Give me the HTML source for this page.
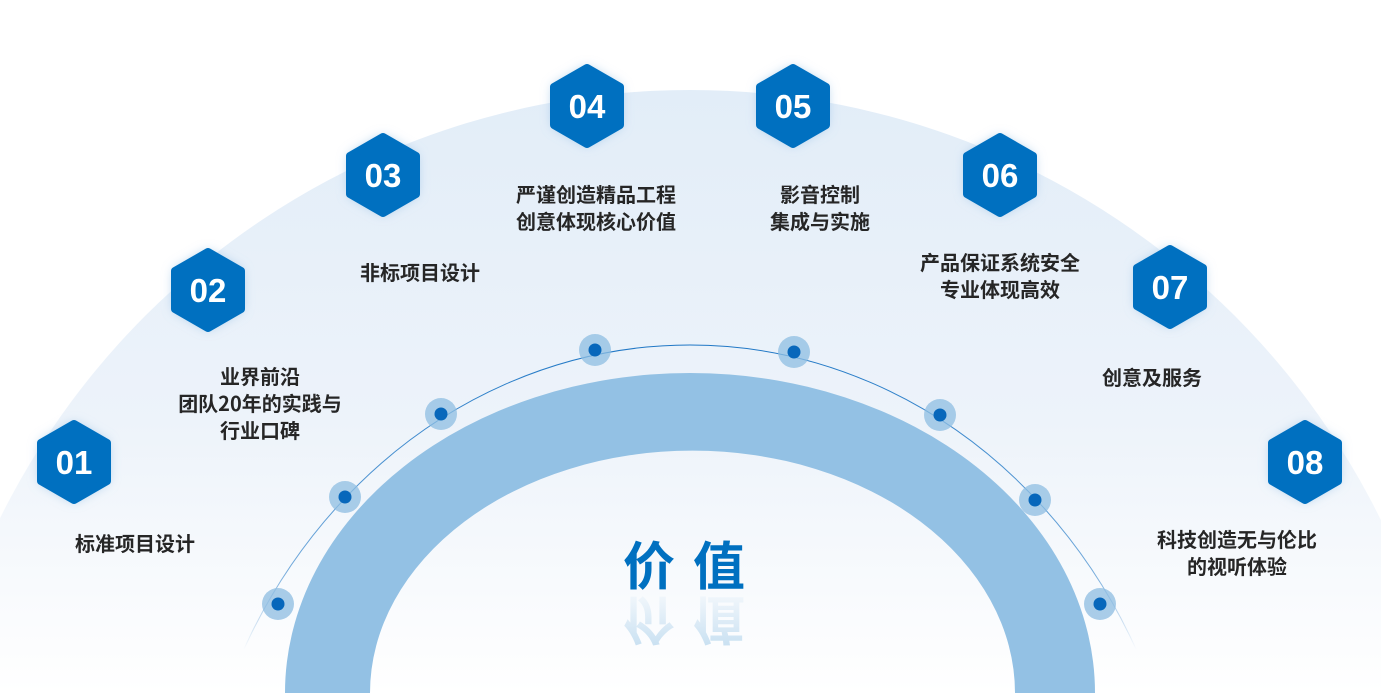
<!DOCTYPE html>
<html><head><meta charset="utf-8"><style>
html,body{margin:0;padding:0;background:#fff;overflow:hidden;}
svg{display:block;}
text{font-family:"Liberation Sans","Noto Sans CJK SC",sans-serif;}
.l{font-size:20px;font-weight:bold;fill:#262626;text-anchor:middle;font-family:"Noto Sans CJK SC","WenQuanYi Zen Hei",sans-serif;}
.n{font-size:33px;font-weight:bold;fill:#fff;text-anchor:middle;font-family:"Liberation Sans",sans-serif;}
</style></head><body>
<svg width="1381" height="693" viewBox="0 0 1381 693" xmlns="http://www.w3.org/2000/svg">
<defs>
<linearGradient id="bg" gradientUnits="userSpaceOnUse" x1="0" y1="90" x2="0" y2="693">
<stop offset="0" stop-color="#e2edf8"/><stop offset="0.55" stop-color="#edf3fa"/><stop offset="1" stop-color="#ffffff"/>
</linearGradient>
<linearGradient id="refl" x1="0" y1="0" x2="0" y2="1">
<stop offset="0" stop-color="#0070c0" stop-opacity="0.25"/><stop offset="1" stop-color="#0070c0" stop-opacity="0"/>
</linearGradient>
<linearGradient id="fade" gradientUnits="userSpaceOnUse" x1="0" y1="330" x2="0" y2="650">
<stop offset="0" stop-color="#fff"/><stop offset="0.75" stop-color="#fff" stop-opacity="0.6"/><stop offset="1" stop-color="#fff" stop-opacity="0"/>
</linearGradient>
<mask id="m"><rect width="1381" height="693" fill="url(#fade)"/></mask>
<filter id="sh" x="-50%" y="-50%" width="200%" height="200%"><feGaussianBlur stdDeviation="6"/></filter>
</defs>
<rect width="1381" height="693" fill="#fff"/>
<circle cx="690" cy="860" r="770" fill="url(#bg)"/>
<!-- thick arc -->
<path d="M285 693 A405 320 0 0 1 1095 693 L1015 693 A322 242 0 0 0 370 693 Z" fill="#93c1e4"/>
<!-- thin arc -->
<ellipse cx="690" cy="900" rx="500" ry="555" fill="none" stroke="#1a74c4" stroke-width="1" mask="url(#m)"/>
<g fill="#8ebde2" opacity="0.75">
<circle cx="278" cy="604" r="16"/><circle cx="345" cy="497" r="16"/><circle cx="441" cy="414" r="16"/><circle cx="595" cy="350" r="16"/>
<circle cx="794" cy="352" r="16"/><circle cx="940" cy="415" r="16"/><circle cx="1035" cy="500" r="16"/><circle cx="1100" cy="604" r="16"/>
</g>
<g fill="#0767bb">
<circle cx="278" cy="604" r="6.5"/><circle cx="345" cy="497" r="6.5"/><circle cx="441" cy="414" r="6.5"/><circle cx="595" cy="350" r="6.5"/>
<circle cx="794" cy="352" r="6.5"/><circle cx="940" cy="415" r="6.5"/><circle cx="1035" cy="500" r="6.5"/><circle cx="1100" cy="604" r="6.5"/>
</g>
<!-- hexagons -->
<g transform="translate(74,462)"><polygon points="0,-38 33,-19 33,19 0,38 -33,19 -33,-19" fill="#8fbce3" filter="url(#sh)"/><polygon points="0,-38 33,-19 33,19 0,38 -33,19 -33,-19" fill="#0070c0" stroke="#0070c0" stroke-width="8" stroke-linejoin="round"/><text class="n" y="12">01</text></g>
<g transform="translate(208,290)"><polygon points="0,-38 33,-19 33,19 0,38 -33,19 -33,-19" fill="#8fbce3" filter="url(#sh)"/><polygon points="0,-38 33,-19 33,19 0,38 -33,19 -33,-19" fill="#0070c0" stroke="#0070c0" stroke-width="8" stroke-linejoin="round"/><text class="n" y="12">02</text></g>
<g transform="translate(383,175)"><polygon points="0,-38 33,-19 33,19 0,38 -33,19 -33,-19" fill="#8fbce3" filter="url(#sh)"/><polygon points="0,-38 33,-19 33,19 0,38 -33,19 -33,-19" fill="#0070c0" stroke="#0070c0" stroke-width="8" stroke-linejoin="round"/><text class="n" y="12">03</text></g>
<g transform="translate(587,106)"><polygon points="0,-38 33,-19 33,19 0,38 -33,19 -33,-19" fill="#8fbce3" filter="url(#sh)"/><polygon points="0,-38 33,-19 33,19 0,38 -33,19 -33,-19" fill="#0070c0" stroke="#0070c0" stroke-width="8" stroke-linejoin="round"/><text class="n" y="12">04</text></g>
<g transform="translate(793,106)"><polygon points="0,-38 33,-19 33,19 0,38 -33,19 -33,-19" fill="#8fbce3" filter="url(#sh)"/><polygon points="0,-38 33,-19 33,19 0,38 -33,19 -33,-19" fill="#0070c0" stroke="#0070c0" stroke-width="8" stroke-linejoin="round"/><text class="n" y="12">05</text></g>
<g transform="translate(1000,175)"><polygon points="0,-38 33,-19 33,19 0,38 -33,19 -33,-19" fill="#8fbce3" filter="url(#sh)"/><polygon points="0,-38 33,-19 33,19 0,38 -33,19 -33,-19" fill="#0070c0" stroke="#0070c0" stroke-width="8" stroke-linejoin="round"/><text class="n" y="12">06</text></g>
<g transform="translate(1170,287)"><polygon points="0,-38 33,-19 33,19 0,38 -33,19 -33,-19" fill="#8fbce3" filter="url(#sh)"/><polygon points="0,-38 33,-19 33,19 0,38 -33,19 -33,-19" fill="#0070c0" stroke="#0070c0" stroke-width="8" stroke-linejoin="round"/><text class="n" y="12">07</text></g>
<g transform="translate(1305,462)"><polygon points="0,-38 33,-19 33,19 0,38 -33,19 -33,-19" fill="#8fbce3" filter="url(#sh)"/><polygon points="0,-38 33,-19 33,19 0,38 -33,19 -33,-19" fill="#0070c0" stroke="#0070c0" stroke-width="8" stroke-linejoin="round"/><text class="n" y="12">08</text></g>
<!-- labels -->
<text class="l" x="135" y="551">标准项目设计</text>
<text class="l" x="260" y="384">业界前沿</text>
<text class="l" x="260" y="411">团队20年的实践与</text>
<text class="l" x="260" y="438">行业口碑</text>
<text class="l" x="420" y="280">非标项目设计</text>
<text class="l" x="596" y="202">严谨创造精品工程</text>
<text class="l" x="596" y="229">创意体现核心价值</text>
<text class="l" x="820" y="202">影音控制</text>
<text class="l" x="820" y="229">集成与实施</text>
<text class="l" x="1000" y="270">产品保证系统安全</text>
<text class="l" x="1000" y="297">专业体现高效</text>
<text class="l" x="1152" y="385">创意及服务</text>
<text class="l" x="1237" y="547">科技创造无与伦比</text>
<text class="l" x="1237" y="574">的视听体验</text>
<!-- title -->
<text x="693" y="585" text-anchor="middle" style="font-size:52px;font-weight:bold;fill:#0070c0;font-family:'Noto Sans CJK SC',sans-serif;letter-spacing:18px">价值</text>
<g transform="translate(0,1186) scale(1,-1)">
<text x="693" y="585" text-anchor="middle" style="font-size:52px;font-weight:bold;fill:url(#refl);font-family:'Noto Sans CJK SC',sans-serif;letter-spacing:18px">价值</text>
</g>
</svg>
</body></html>
